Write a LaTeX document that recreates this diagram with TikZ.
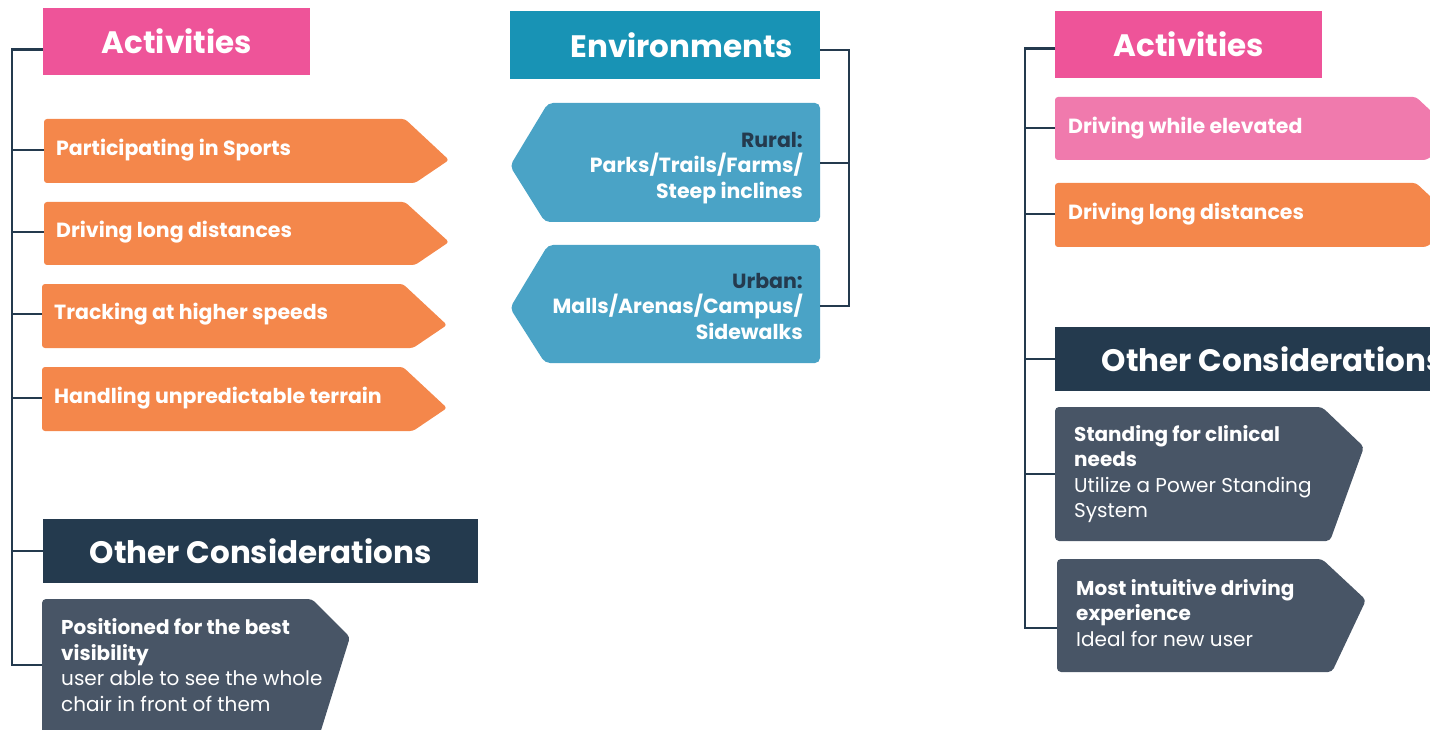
\documentclass[tikz,border=0pt]{standalone}
\usepackage{fontspec}
\setmainfont{Poppins}

\definecolor{actpink}{HTML}{EE5499}
\definecolor{elevpink}{HTML}{F07AAD}
\definecolor{actorange}{HTML}{F4874B}
\definecolor{navy}{HTML}{243A4E}
\definecolor{slate}{HTML}{485566}
\definecolor{envblue}{HTML}{1893B5}
\definecolor{envlight}{HTML}{4AA3C6}

\tikzset{
  header/.style={fill=#1, text=white, anchor=north west, inner sep=0pt,
    minimum height=67pt, font=\fontsize{31}{36}\selectfont\bfseries},
  itemtext/.style={text=white, anchor=west, inner xsep=12pt, inner ysep=0pt,
    font=\fontsize{20.5}{24}\selectfont\bfseries},
  envtext/.style={text=white, anchor=east, align=right, inner xsep=17pt, inner ysep=0pt,
    font=\fontsize{20.5}{25.5}\selectfont\bfseries},
  graytext/.style={text=white, anchor=west, align=left, inner xsep=19pt, inner ysep=0pt,
    font=\fontsize{20}{25.5}\selectfont},
  spine/.style={draw=navy, line width=2.5pt}
}

\begin{document}
\begin{tikzpicture}[x=1pt, y=-1pt]
      \useasboundingbox (0,0) rectangle (1430,730);
      \clip (0,0) rectangle (1430,730);

      % left column
      \node[header=actpink, minimum width=267pt] (actL) at (43,8) {Activities};

      \fill[actorange, rounded corners=3pt] (44,183) -- (44,119) -- (405,119) -- (449,160) -- (415,183) -- cycle;
      \fill[actorange, rounded corners=3pt] (44,265) -- (44,202) -- (405,202) -- (449,242) -- (415,265) -- cycle;
      \fill[actorange, rounded corners=3pt] (42,348) -- (42,284) -- (403,284) -- (447,325) -- (413,348) -- cycle;
      \fill[actorange, rounded corners=3pt] (42,431) -- (42,367) -- (403,367) -- (447,408) -- (413,431) -- cycle;
      \node[itemtext] (sports) at (44,150) {Participating in Sports};
      \node[itemtext] (distL) at (44,232) {Driving long distances};
      \node[itemtext] (speed) at (42,314) {Tracking at higher speeds};
      \node[itemtext] (terrain) at (42,398) {Handling unpredictable terrain};

      \node[header=navy, minimum width=435pt, minimum height=64pt] (otherL) at (43,519) {Other Considerations};

      \fill[slate, rounded corners=4pt] (42,740) -- (42,599) -- (312,599) -- (350,637) -- (318,740) -- cycle;
      \node[graytext] (visib) at (42,665) {\textbf{Positioned for the best}\\\textbf{visibility}\\user able to see the whole\\chair in front of them};

      \coordinate (spineL) at (12,0);
      \draw[spine] ([yshift=-8pt]actL.west) -| (spineL |- visib.west) -- (visib.west);
      \draw[spine] (spineL |- sports.west) -- (sports.west);
      \draw[spine] (spineL |- distL.west) -- (distL.west);
      \draw[spine] (spineL |- speed.west) -- (speed.west);
      \draw[spine] (spineL |- terrain.west) -- (terrain.west);
      \draw[spine] (spineL |- otherL.west) -- (otherL.west);

      % middle column
      \node[header=envblue, minimum width=310pt, minimum height=68pt, inner xsep=27pt,
        text width=256pt, align=right] (env) at (510,11) {Environments};

      \fill[envlight, rounded corners=5pt] (820,222) -- (545,222) -- (510,166) -- (548,103) -- (820,103) -- cycle;
      \fill[envlight, rounded corners=5pt] (820,363) -- (545,363) -- (510,308) -- (548,245) -- (820,245) -- cycle;
      \node[envtext] (rural) at (820,168) {\textcolor{navy}{Rural:}\\Parks/Trails/Farms/\\Steep inclines};
      \node[envtext] (urban) at (820,306) {\textcolor{navy}{Urban:}\\Malls/Arenas/Campus/\\Sidewalks};
      \coordinate (ruralTick) at ([yshift=5pt]rural.east);

      \coordinate (spineM) at (849,0);
      \draw[spine] ([yshift=-5pt]env.east) -| (spineM |- urban.east) -- (urban.east);
      \draw[spine] (ruralTick) -- (spineM |- ruralTick);

      % right column
      \node[header=actpink, minimum width=267pt] (actR) at (1055,11) {Activities};

      \fill[elevpink, rounded corners=3pt] (1055,160) -- (1055,97) -- (1416,97) -- (1460,138) -- (1426,160) -- cycle;
      \fill[actorange, rounded corners=3pt] (1055,247) -- (1055,183) -- (1416,183) -- (1460,224) -- (1426,247) -- cycle;
      \node[itemtext, inner xsep=13pt] (elev) at (1055,128) {Driving while elevated};
      \node[itemtext, inner xsep=13pt] (distR) at (1055,214) {Driving long distances};

      \node[header=navy, minimum width=435pt, minimum height=64pt] (otherR) at (1055,327) {Other Considerations};

      \fill[slate, rounded corners=4pt] (1055,541) -- (1055,407) -- (1322,407) -- (1364,447) -- (1330,541) -- cycle;
      \fill[slate, rounded corners=4pt] (1057,672) -- (1057,559) -- (1322,559) -- (1366,600) -- (1332,672) -- cycle;
      \node[graytext] (stand) at (1055,474) {\textbf{Standing for clinical}\\\textbf{needs}\\Utilize a Power Standing\\System};
      \node[graytext] (intuit) at (1057,613) {\textbf{Most intuitive driving}\\\textbf{experience}\\Ideal for new user};
      \coordinate (intuitTick) at ([yshift=-15pt]intuit.west);

      \coordinate (spineR) at (1025,0);
      \draw[spine] ([yshift=-4pt]actR.west) -| (spineR |- intuitTick) -- (intuitTick);
      \draw[spine] (spineR |- elev.west) -- (elev.west);
      \draw[spine] (spineR |- distR.west) -- (distR.west);
      \draw[spine] (spineR |- otherR.west) -- (otherR.west);
      \draw[spine] (spineR |- stand.west) -- (stand.west);
    \end{tikzpicture}
\end{document}
